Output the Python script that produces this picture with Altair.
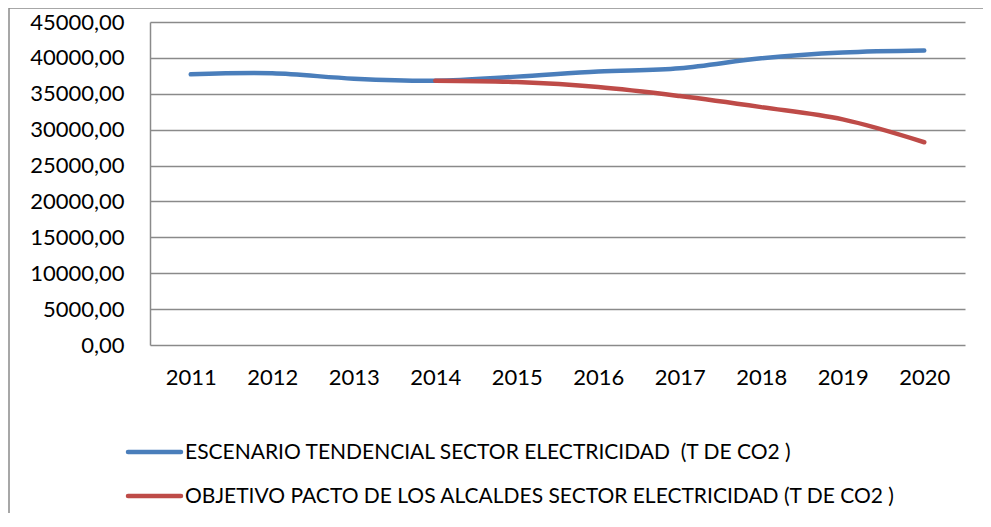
import altair as alt
import pandas as pd

years = ["2011", "2012", "2013", "2014", "2015", "2016", "2017", "2018", "2019", "2020"]
tendencial = [37710, 37850, 37110, 36830, 37390, 38090, 38550, 39940, 40740, 41020]
objetivo_years = ["2014", "2015", "2016", "2017", "2018", "2019", "2020"]
objetivo = [36830, 36630, 35940, 34680, 33140, 31430, 28250]

s1 = "ESCENARIO TENDENCIAL SECTOR ELECTRICIDAD\u00a0 (T DE CO2 )"
s2 = "OBJETIVO PACTO DE LOS ALCALDES SECTOR ELECTRICIDAD (T DE CO2 )"
series = [s1, s2]
colors = ["#4a7ebb", "#be4b48"]

rows = [{"year": y, "value": v, "serie": s1} for y, v in zip(years, tendencial)]
rows += [{"year": y, "value": v, "serie": s2} for y, v in zip(objetivo_years, objetivo)]
df = pd.DataFrame(rows)

FONT = "Lato"
W, H = 815, 323
PAD_R, PAD_B = 18, 168
one = alt.Data(values=[{"a": 1}])

# outer chart frame (top and left edges; others fall outside the picture)
frame_top = alt.Chart(one).mark_rule(stroke="#8a8a8a", strokeWidth=1.5).encode(
    x=alt.value(-141), x2=alt.value(W + PAD_R), y=alt.value(-14))
frame_left = alt.Chart(one).mark_rule(stroke="#8a8a8a", strokeWidth=1.5).encode(
    x=alt.value(-141), y=alt.value(-14), y2=alt.value(H + PAD_B))

lines = alt.Chart(df).mark_line(
    strokeWidth=4.5, interpolate="catmull-rom", strokeCap="round"
).encode(
    x=alt.X("year:O", scale=alt.Scale(type="point", padding=0.5), title=None,
            axis=alt.Axis(labelAngle=0, ticks=False, domain=False, grid=False,
                          labelPadding=22, labelFontSize=22, labelFont=FONT,
                          labelColor="#000")),
    y=alt.Y("value:Q", scale=alt.Scale(domain=[0, 45000], nice=False), title=None,
            axis=alt.Axis(values=list(range(0, 45001, 5000)),
                          labelExpr="replace(format(datum.value, '.2f'), '.', ',')",
                          ticks=False, domain=True, domainColor="#8a8a8a", domainWidth=1.5,
                          grid=True, gridColor="#8a8a8a", gridWidth=1.5,
                          labelPadding=26, labelFontSize=22, labelFont=FONT,
                          labelColor="#000")),
    color=alt.Color("serie:N", scale=alt.Scale(domain=series, range=colors), legend=None),
    order=alt.Order("year:O"),
)

# legend drawn below the plot
legend_layers = []
for i, (s, c) in enumerate(zip(series, colors)):
    ypos = 430 + 44 * i
    legend_layers.append(
        alt.Chart(one).mark_rule(stroke=c, strokeWidth=4.5, strokeCap="round").encode(
            x=alt.value(-22), x2=alt.value(31), y=alt.value(ypos)))
    legend_layers.append(
        alt.Chart(one).mark_text(align="left", baseline="middle", font=FONT,
                                 fontSize=21, color="#000", text=s).encode(
            x=alt.value(35), y=alt.value(ypos + 1)))

chart = alt.layer(frame_top, frame_left, lines, *legend_layers).properties(
    width=W, height=H,
    autosize=alt.AutoSizeParams(type="none"),
    padding={"left": 142, "top": 14, "right": PAD_R, "bottom": PAD_B},
).configure(
    background="white",
    view=alt.ViewConfig(stroke="transparent", strokeWidth=0),
)

chart.save("out.html", embed_options={"renderer": "svg", "actions": False})
